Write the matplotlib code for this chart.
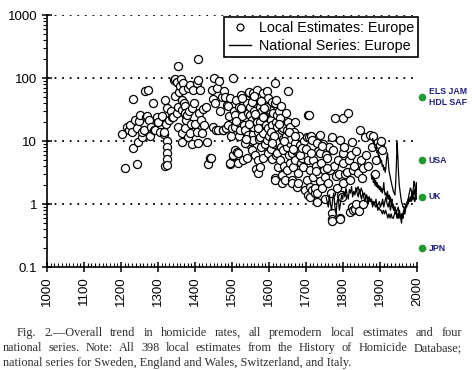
import matplotlib
matplotlib.use("Agg")
import matplotlib.pyplot as plt
import numpy as np
from matplotlib.lines import Line2D
from matplotlib.ticker import LogLocator, MultipleLocator, FixedLocator, NullFormatter

plt.rcParams['font.family'] = ['Liberation Sans', 'DejaVu Sans']

# local estimates (year, homicides per 100k)
local_years = [
    1203, 1211, 1216, 1222, 1224, 1230, 1233, 1233, 1238, 1243, 1243, 1246, 1248, 1251, 1256, 1258, 1262,
    1265, 1268, 1273, 1270, 1275, 1278, 1282, 1286, 1290, 1292, 1297, 1300,
    1305, 1310, 1315, 1316, 1319, 1319, 1322, 1324, 1324, 1324, 1324, 1324, 1324, 1330, 1335, 1338, 1341,
    1343, 1346, 1346, 1350, 1351, 1351, 1354, 1354, 1354, 1357, 1360, 1362, 1364, 1364, 1364, 1365, 1367,
    1368, 1370, 1372, 1373, 1373, 1373, 1376, 1378, 1380, 1381, 1383, 1386, 1386, 1388, 1391, 1391, 1395,
    1398, 1400,
    1405, 1405, 1408, 1408, 1408, 1411, 1414, 1416, 1419, 1422, 1425, 1430, 1432, 1436, 1441, 1443, 1446,
    1449, 1449, 1452, 1455, 1457, 1460, 1462, 1465, 1468, 1472, 1475, 1476, 1478, 1481, 1484, 1486, 1489,
    1490, 1493, 1495, 1495, 1495, 1498,
    1500, 1502, 1503, 1503, 1505, 1508, 1508, 1508, 1510, 1513, 1515, 1516, 1517, 1518, 1520, 1522, 1525,
    1527, 1530, 1530, 1532, 1535, 1537, 1540, 1540, 1542, 1543, 1545, 1547, 1549, 1549, 1549, 1551, 1554,
    1554, 1556, 1557, 1557, 1557, 1560, 1562, 1563, 1565, 1565, 1568, 1568, 1570, 1570, 1570, 1572, 1575,
    1576, 1576, 1576, 1576, 1578, 1580, 1582, 1584, 1584, 1584, 1586, 1589, 1590, 1592, 1594, 1595, 1597,
    1597, 1597, 1599,
    1601, 1603, 1605, 1606, 1608, 1608, 1608, 1610, 1611, 1611, 1613, 1616, 1616, 1616, 1616, 1618, 1620,
    1622, 1622, 1622, 1624, 1624, 1626, 1628, 1630, 1630, 1632, 1635, 1635, 1636, 1638, 1638, 1638, 1640,
    1643, 1645, 1649, 1649, 1649, 1651, 1652, 1655, 1657, 1657, 1657, 1660, 1662, 1662, 1662, 1665, 1667,
    1670, 1670, 1670, 1673, 1676, 1676, 1678, 1678, 1680, 1684, 1686, 1689, 1692, 1695, 1697, 1699,
    1703, 1703, 1705, 1705, 1705, 1707, 1708, 1711, 1711, 1711, 1713, 1716, 1716, 1719, 1720, 1724, 1724,
    1727, 1730, 1730, 1730, 1733, 1735, 1738, 1738, 1738, 1740, 1743, 1745, 1748, 1751, 1751, 1754, 1757,
    1760, 1762, 1765, 1767, 1770, 1770, 1770, 1770, 1773, 1775, 1778, 1780, 1784, 1787, 1790, 1792, 1792,
    1792, 1795, 1797, 1799,
    1800, 1800, 1800, 1803, 1806, 1811, 1814, 1816, 1819, 1819, 1822, 1824, 1824, 1827, 1827, 1830, 1832,
    1835, 1836, 1841, 1843, 1846, 1848, 1851, 1854, 1855, 1859, 1862, 1867, 1873, 1878, 1881, 1885, 1890,
    1900, 1902, 1905,
    1512, 1523, 1534, 1546, 1553, 1561, 1571, 1583, 1593, 1604, 1614, 1627, 1641, 1654, 1664, 1683,
    1526, 1538, 1559, 1579, 1587, 1607, 1619, 1633, 1647, 1669, 1688, 1701, 1714, 1726, 1742, 1756,
]
local_rates = [
    12.9, 3.7, 17, 15, 18, 14, 7.7, 47, 22, 16, 4.3, 9.6, 21, 26, 11.5, 14, 15,
    63, 24, 66, 25, 22, 12, 17, 40, 15, 15, 24, 20,
    14, 25, 13, 14, 45, 4, 19, 34, 10, 8.2, 6.6, 5.3, 4.2, 22, 30, 24, 24,
    95, 52, 96, 88, 87, 28, 155, 35, 17, 60, 75, 96, 31, 13.5, 9.6, 45, 83,
    64, 40, 27, 36, 28, 16, 22, 26, 70, 11.5, 30, 77, 13.5, 19, 34, 8.9, 66,
    40, 19,
    83, 14, 93, 200, 9.3, 28, 64, 22, 13.5, 32, 18, 35, 9.6, 4.3, 5.5, 5.5, 66,
    47, 17, 100, 40, 15, 70, 15, 90, 30, 50, 15, 15, 62, 50, 16, 38, 36,
    18, 25, 48, 4.3, 4.5, 12,
    16, 100, 5.8, 6, 30, 26, 17, 7.2, 45, 6.7, 20, 6.5, 4.5, 35, 12, 15, 55,
    25, 37, 5, 18, 15, 45, 40, 5.5, 28, 12.5, 9, 60, 35, 26, 10, 18, 22,
    7.2, 13, 58, 17, 10.3, 30, 6, 45, 3.6, 25, 64, 20, 14, 5, 3.1, 11, 35,
    50, 20, 11.5, 3.9, 8, 30, 16, 58, 13.5, 5.5, 25, 40, 9, 18, 62, 10.3, 48,
    16, 6.5, 30,
    12, 31, 22, 7.5, 42, 18, 5.3, 14, 28, 11, 9, 83, 40, 2.6, 2.4, 20, 6,
    26, 17, 6.5, 9.6, 3.9, 13, 30, 23, 5, 8, 2.9, 2.2, 15, 16, 11, 7.2, 4,
    2.4, 12, 15, 8, 3.5, 62, 20, 6, 17, 9.3, 4.5, 11, 6.5, 2.4, 2.2, 3.9, 14,
    20, 9.3, 5, 7, 7.2, 1.9, 3.1, 2.2, 12, 8.6, 4.5, 5.5, 3.9, 10, 1.7, 6,
    11.5, 2.4, 26, 5, 1.4, 11.5, 26, 3.5, 1.3, 1.9, 12, 10.3, 1.7, 2.7, 5, 1.5, 1.8,
    4, 9.3, 1.5, 1.1, 7, 3, 12.5, 6.5, 2.3, 4.5, 1.8, 9, 3.5, 2.7, 1.2, 6, 5.5,
    2.2, 8, 3.5, 1.5, 11.5, 0.72, 0.58, 0.55, 7.2, 4, 23, 2.8, 1.8, 5, 3, 10.3, 0.6,
    0.58, 1.4, 1.3, 6.5,
    23, 4.5, 2.2, 8, 3, 3.2, 28, 5, 2.4, 0.75, 6, 9.6, 0.9, 3.5, 0.8, 4, 0.85,
    1.0, 7, 3.1, 0.78, 15, 5, 2.6, 3.7, 1.0, 11.5, 6, 4, 12.5, 8, 12, 3, 5,
    8.6, 10, 7.2,
    21, 33, 9.5, 19, 42, 27, 16, 24, 35, 14, 12, 19, 10, 14, 7.5, 6,
    48, 11, 53, 44, 34, 9.5, 45, 36, 28, 12, 7.8, 7.6, 6.4, 3.4, 8.4, 3.8,
]

# national series
sweden_years = list(range(1754, 2001, 3))
sweden_rates = [
    1.3, 1.1, 0.9, 1.4, 1.0, 0.8, 1.2, 1.5, 0.9, 0.7, 1.1, 1.3, 0.8, 1.0, 1.4, 1.2,
    1.6, 1.3, 1.8, 1.4, 1.2, 1.7, 1.5, 1.9, 1.3, 1.6, 1.4, 1.8, 1.5, 1.3, 1.7, 1.4, 1.2,
    1.5, 1.3, 1.1, 1.4, 1.2, 1.0, 1.3, 1.1, 1.2, 0.9, 1.1, 1.0, 1.2, 0.9, 1.0, 1.1, 0.9,
    1.0, 1.2, 0.9, 1.1, 1.3, 1.0, 0.9, 1.1, 0.8, 1.0, 0.9, 0.8, 0.9, 0.7, 0.8, 0.9, 0.7,
    0.6, 0.7, 0.6, 0.8, 0.7, 0.9, 1.0, 1.2, 1.1, 1.3, 1.2, 1.4, 1.2, 1.1, 1.3, 1.2,
]
england_years = list(range(1834, 2000, 3))
england_rates = [
    1.8, 1.6, 1.9, 1.7, 1.5, 1.8, 1.6, 1.4, 1.5, 1.3, 1.4, 1.2, 1.3, 1.1, 1.2, 1.0, 1.1,
    1.0, 0.9, 1.0, 0.8, 0.9, 0.8, 0.8, 0.7, 0.8, 0.7, 0.8, 0.7, 0.6, 0.7, 0.6, 0.7, 0.6,
    0.6, 0.7, 0.8, 0.7, 0.6, 0.7, 0.6, 0.6, 0.7, 0.7, 0.8, 0.9, 1.0, 1.1, 1.1, 1.2, 1.1,
    1.2, 1.3, 1.2, 1.4, 1.5,
]
italy_years = list(range(1880, 2001, 2))
italy_rates = [
    11, 9, 10, 8, 7.5, 8, 6.5, 7, 5.5, 6,
    5, 4.5, 5, 4, 4.2, 3.5, 3.8, 3.2, 4, 5.5,
    6.5, 5, 3.5, 3, 2.6, 2.3, 2, 1.8, 1.6, 1.5,
    1.4, 2, 4, 9.5, 6, 3, 2, 1.6, 1.3, 1.1,
    1.0, 0.9, 0.9, 0.8, 0.9, 0.9, 1.0, 1.1, 1.2, 1.4,
    1.6, 1.8, 1.7, 1.5, 1.4, 1.8, 2.3, 2.0, 1.6, 1.3, 1.2,
]
swiss_years = list(range(1876, 2001, 2))
swiss_rates = [
    3, 2.5, 2.8, 2.2, 2.6, 2, 2.4, 1.9, 2.2, 1.8,
    2, 1.7, 1.9, 1.6, 1.8, 1.5, 1.7, 2.2, 1.6, 1.4,
    1.5, 1.3, 1.6, 1.2, 1.4, 1.1, 1.3, 1.0, 1.2, 0.9,
    1.0, 0.8, 0.9, 0.7, 0.8, 0.6, 0.7, 0.6, 0.8, 0.7,
    0.6, 0.5, 0.7, 0.6, 0.8, 0.7, 0.9, 1.0, 0.9, 1.1,
    1.0, 1.2, 1.1, 1.3, 1.2, 1.5, 1.3, 1.6, 1.4, 1.7,
    1.5, 2.2, 1.6,
]

# present-day countries marked at the right edge
country_labels = ['ELS JAM\nHDL SAF', 'USA', 'UK', 'JPN']
country_rates = [50, 5, 1.3, 0.2]

caption_lines = [
    "Fig. 2.\u2014Overall trend in homicide rates, all premodern local estimates and four",
    "national series. Note: All 398 local estimates from the History of Homicide Database;",
    "national series for Sweden, England and Wales, Switzerland, and Italy.",
]

fig = plt.figure(figsize=(4.72, 3.70), dpi=100)
ax = fig.add_axes([0.0996, 0.278, 0.784, 0.681])

for lvl in [1, 10, 100, 1000]:
    ax.plot([1000, 2000], [lvl, lvl], color='black', lw=1.3,
            linestyle=(0, (1, 3.2)), zorder=1)

ax.scatter(local_years, local_rates, s=34, facecolors='white', edgecolors='black',
           linewidths=0.9, zorder=3)

for yrs, vals in [(sweden_years, sweden_rates), (england_years, england_rates),
                  (swiss_years, swiss_rates), (italy_years, italy_rates)]:
    ax.plot(yrs, vals, color='black', lw=0.9, zorder=4)

ax.set_yscale('log')
ax.set_xlim(1000, 2000)
ax.set_ylim(0.1, 1000)

ax.xaxis.set_major_locator(MultipleLocator(100))
ax.xaxis.set_minor_locator(MultipleLocator(10))
ax.yaxis.set_major_locator(FixedLocator([0.1, 1, 10, 100, 1000]))
ax.yaxis.set_minor_locator(LogLocator(base=10, subs=np.arange(2, 10)))
ax.yaxis.set_minor_formatter(NullFormatter())
ax.set_yticklabels(['0.1', '1', '10', '100', '1000'])

ax.tick_params(axis='both', which='major', direction='inout', length=7, width=1.1,
               labelsize=9.5, colors='black')
ax.tick_params(axis='x', which='major', labelrotation=90, pad=3)
ax.tick_params(axis='x', which='minor', direction='in', length=3, width=0.8)
ax.tick_params(axis='y', which='minor', direction='out', length=3, width=0.8)

for side in ['top', 'right']:
    ax.spines[side].set_visible(False)
for side in ['left', 'bottom']:
    ax.spines[side].set_linewidth(1.2)

# green markers outside the axis
for lab, val in zip(country_labels, country_rates):
    ax.plot([2014], [val], 'o', color='#1e9a2e', ms=4.5, clip_on=False, zorder=5)
    ax.text(2032, val, lab, color='#20207a', fontsize=6.3, fontweight='bold',
            va='center', ha='left', linespacing=1.3, clip_on=False)

handles = [
    Line2D([], [], marker='o', ls='none', mfc='white', mec='black', ms=5, mew=0.9),
    Line2D([], [], color='black', lw=1.0),
]
leg = ax.legend(handles, ['Local Estimates: Europe', 'National Series: Europe'],
                loc='upper right', bbox_to_anchor=(1.003, 0.992), fontsize=10.3,
                frameon=True, fancybox=False, edgecolor='black', framealpha=1,
                handlelength=1.6, handletextpad=0.5, borderpad=0.3, labelspacing=0.25,
                borderaxespad=0)
leg.get_frame().set_linewidth(1.2)

# caption, first two lines justified between the margins
renderer = fig.canvas.get_renderer()
cap_y = [0.100, 0.059, 0.020]
cap_x = [0.036, 0.006, 0.006]
right_edge = 0.978
cap_kw = dict(family='Liberation Serif', fontsize=8.8, color='#2e2e2e', va='center', ha='left')
for i, (txt, xx, yy) in enumerate(zip(caption_lines, cap_x, cap_y)):
    if i == len(caption_lines) - 1:
        fig.text(xx, yy, txt, **cap_kw)
        continue
    words = txt.split(' ')
    items = [fig.text(0, yy, w, **cap_kw) for w in words]
    widths = [t.get_window_extent(renderer).width / fig.bbox.width for t in items]
    gap = (right_edge - xx - sum(widths)) / (len(words) - 1)
    pos = xx
    for t, w in zip(items, widths):
        t.set_x(pos)
        pos += w + gap

fig.savefig('out.png', dpi=100)
